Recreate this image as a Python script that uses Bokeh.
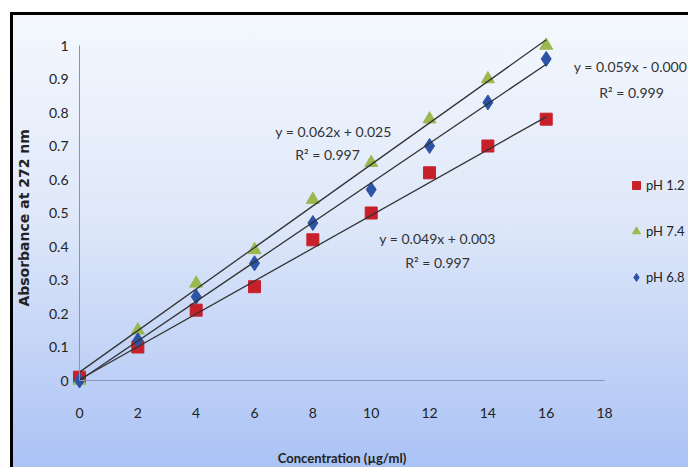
from bokeh.plotting import figure
from bokeh.models import Range1d, FixedTicker, Legend, LegendItem, Label
from bokeh.embed import file_html
from bokeh.resources import INLINE

# ---- data ----
concentration = [0, 2, 4, 6, 8, 10, 12, 14, 16]
ph12 = [0.01, 0.10, 0.21, 0.28, 0.42, 0.50, 0.62, 0.70, 0.78]
ph74 = [0.00, 0.15, 0.29, 0.39, 0.54, 0.65, 0.78, 0.90, 1.00]
ph68 = [0.00, 0.12, 0.25, 0.35, 0.47, 0.57, 0.70, 0.83, 0.96]
series_names = ["pH 1.2", "pH 7.4", "pH 6.8"]
slopes = [0.049, 0.062, 0.059]
intercepts = [0.003, 0.025, -0.000]
r2 = [0.997, 0.997, 0.999]
x_ticks = [0, 2, 4, 6, 8, 10, 12, 14, 16, 18]
y_ticks = [0, 0.1, 0.2, 0.3, 0.4, 0.5, 0.6, 0.7, 0.8, 0.9, 1]

FONT = "Lato"

W, H = 678, 455
PX_X = 29.17   # px per x unit
PX_Y = 335.0   # px per y unit
# canvas at page (13, 15); axis origin at page (79, 380)
CX, CY = 13, 15
x0 = -(79 - CX) / PX_X
x1 = x0 + W / PX_X
y0 = -(CY + H - 380) / PX_Y
y1 = y0 + H / PX_Y

p = figure(width=W, height=H, x_range=Range1d(x0, x1), y_range=Range1d(y0, y1),
           output_backend="svg", toolbar_location=None,
           min_border_left=0, min_border_right=0, min_border_top=0, min_border_bottom=0,
           background_fill_alpha=0, border_fill_alpha=0)
p.margin = (12, 0, 0, 10)
p.styles = {"background": "linear-gradient(to bottom, #f4f8fe 0%, #dfe8f9 45%, #abc2f5 100%)",
            "border-left": "3px solid #000", "border-top": "3px solid #000",
            "border-right": "0px none", "border-bottom": "0px none"}
p.outline_line_color = None
p.grid.visible = False

for ax in (p.xaxis[0], p.yaxis[0]):
    ax.fixed_location = 0
    ax.major_tick_in = 0
    ax.major_tick_out = 0
    ax.minor_tick_in = 0
    ax.minor_tick_out = 0
    ax.axis_line_color = "#8796b0"
    ax.axis_line_width = 1
    ax.major_label_text_font = FONT
    ax.major_label_text_font_size = "14px"
    ax.major_label_text_color = "#222222"
    ax.axis_label_text_font_style = "bold"
    ax.axis_label_text_color = "#222222"

p.xaxis.ticker = FixedTicker(ticks=x_ticks)
p.xaxis.bounds = (x_ticks[0], x_ticks[-1])
p.xaxis.axis_label = "Concentration (µg/ml)"
p.xaxis.axis_label_text_font = FONT
p.xaxis.axis_label_text_font_size = "13px"
p.xaxis.major_label_standoff = 27
p.xaxis.axis_label_standoff = 29

p.yaxis.ticker = FixedTicker(ticks=y_ticks)
p.yaxis.bounds = (y_ticks[0], y_ticks[-1])
p.yaxis.major_label_overrides = {t: f"{t:g}" for t in y_ticks}
p.yaxis.axis_label = "Absorbance  at  272 nm"
p.yaxis.axis_label_text_font = "DejaVu Sans"
p.yaxis.axis_label_text_font_size = "14px"
p.yaxis.major_label_standoff = 11
p.yaxis.axis_label_standoff = 14

colors = ["#c8202b", "#9ab84e", "#2b54a6"]
markers = ["square", "triangle", "diamond"]
sizes = [12, 13, 15]
values = [ph12, ph74, ph68]

items = []
for name, vals, c, m, s in zip(series_names, values, colors, markers, sizes):
    r = p.scatter(concentration, vals, marker=m, size=s, fill_color=c, line_color=c)
    items.append(LegendItem(label=name, renderers=[r]))

xfit = [min(concentration), max(concentration)]
for a, b in zip(slopes, intercepts):
    p.line(xfit, [a * x + b for x in xfit], line_color="#333333", line_width=1.3)

# legend position relative to frame bottom-left (frame = canvas)
legend = Legend(items=items, location=(626 - CX, CY + H - 287), glyph_width=20, glyph_height=20,
                spacing=26, padding=0, margin=0, label_standoff=0,
                background_fill_alpha=0, border_line_color=None,
                label_text_font=FONT, label_text_font_size="13px", label_text_color="#222222")
p.add_layout(legend)

def px2x(px):
    return (px - 79) / PX_X

def py2y(py):
    return (380 - py) / PX_Y

def sign(b):
    return f"+ {b:.3f}" if b > 0 else f"- {abs(b):.3f}"

eq_pos = [((437, 238), (437, 262)), ((333, 131), (327, 154)), ((630, 66), (631, 92))]
for a, b, rr, ((ax1, ay1), (ax2, ay2)) in zip(slopes, intercepts, r2, eq_pos):
    for txt, (px, py) in ((f"y = {a:.3f}x {sign(b)}", (ax1, ay1)), (f"R² = {rr:.3f}", (ax2, ay2))):
        p.add_layout(Label(x=px2x(px), y=py2y(py), text=txt, text_align="center",
                           text_baseline="middle", text_font=FONT, text_font_size="14px",
                           text_color="#333333"))

open("out.html", "w").write(file_html(p, INLINE))
